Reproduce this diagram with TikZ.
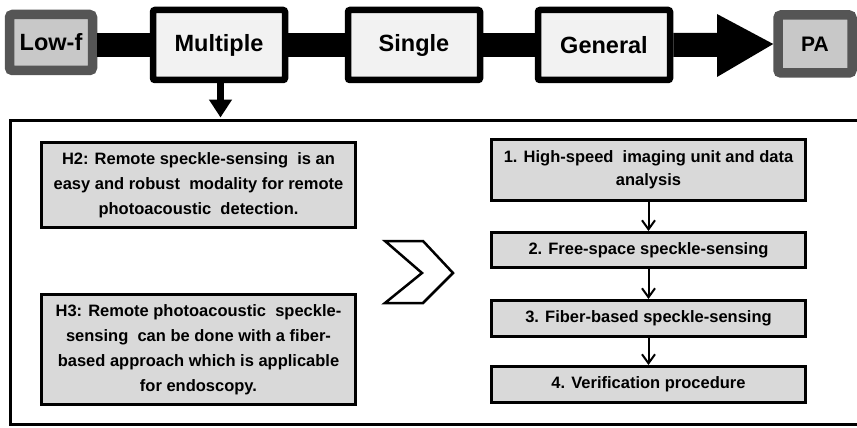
\documentclass[tikz,border=0pt]{standalone}
\usepackage{fontspec}
\setmainfont{Liberation Sans}
\usetikzlibrary{arrows.meta,calc}
\definecolor{boxgray}{HTML}{D9D9D9}
\definecolor{pale}{HTML}{F2F2F2}
\definecolor{endfill}{HTML}{C8C8C8}
\definecolor{enddraw}{HTML}{555555}
\begin{document}
\begin{tikzpicture}[x=1pt,y=-1pt,
  endbox/.style={draw=enddraw,fill=endfill,line width=9.5pt,rounded corners=3pt,
    font=\fontsize{23.5}{28}\selectfont\bfseries,inner sep=0pt},
  stagebox/.style={draw=black,fill=pale,line width=6.5pt,rounded corners=2pt,
    minimum width=132pt,minimum height=70pt,inner sep=0pt,
    font=\fontsize{23.5}{28}\selectfont\bfseries},
  hypbox/.style={draw=black,fill=boxgray,line width=3pt,minimum width=314pt,
    inner sep=0pt,align=center,font=\fontsize{16.5}{25}\selectfont\bfseries},
  workbox/.style={draw=black,fill=boxgray,line width=3pt,minimum width=314pt,
    inner sep=0pt,align=center,font=\fontsize{16.5}{23}\selectfont\bfseries},
  bar/.style={line width=24pt},
  smallarrow/.style={line width=2pt,-{Straight Barb[length=9pt 0 0,width=13pt 0 0,line width=2pt]}}
]
\useasboundingbox (0,0) rectangle (857,428);
\clip (0,0) rectangle (857,428);
\fill[white] (0,0) rectangle (857,428);

% top row
\node[endbox,minimum width=83pt,minimum height=56pt] (lowf) at (51,42.5) {Low-f};
\node[stagebox] (multiple) at (219,45) {Multiple};
\node[stagebox] (single) at (414,45) {Single};
\node[stagebox] (general) at (604,45) {General};
\node[endbox,minimum width=74pt,minimum height=58pt,font=\fontsize{21}{25}\selectfont\bfseries] (pa) at (815,44) {PA};

\draw[bar] (lowf.east |- 0,45) -- (multiple.west);
\draw[bar] (multiple.east) -- (single.west);
\draw[bar] (single.east) -- (general.west);
\fill ($(general.east)+(0,-12)$) -- (717,33) -- (717,14) -- (pa.west) -- (717,77) -- (717,57) -- ($(general.east)+(0,12)$) -- cycle;

% container
\node[draw=black,line width=3pt,minimum width=870pt,minimum height=304pt,inner sep=0pt] (big) at (445,272) {};
\draw[line width=7pt,-{Triangle[length=18pt 0 0,width=22pt 0 0]}] ($(multiple.south)+(1.5,0)$) -- ($(multiple.south |- big.north)+(1.5,-1)$);

% hypotheses
\node[hypbox,minimum height=85pt] (h2) at (198.5,185) {H2: Remote speckle-sensing\ \ is an\\easy and robust\ \ modality for remote\\photoacoustic\ \ detection.};
\node[hypbox,minimum height=110pt] (h3) at (198.5,349.5) {H3: Remote photoacoustic\ \ speckle-\\sensing\ \ can be done with a fiber-\\based approach which is applicable\\for endoscopy.};

% chevron
\draw[line width=2.5pt,line join=miter,fill=white] (385,241) -- (423,241) -- (453,273) -- (423,303) -- (385,303) -- (422,273) -- cycle;

% work packages
\node[workbox,minimum height=61pt] (w1) at (648.5,170) {1. High-speed\ \ imaging unit and data\\analysis};
\node[workbox,minimum height=35pt] (w2) at (648.5,250) {2. Free-space speckle-sensing};
\node[workbox,minimum height=36pt] (w3) at (648.5,318.5) {3. Fiber-based speckle-sensing};
\node[workbox,minimum height=36pt] (w4) at (648.5,384.5) {4. Verification procedure};

\draw[smallarrow] (w1.south) -- (w2.north);
\draw[smallarrow] (w2.south) -- (w3.north);
\draw[smallarrow] (w3.south) -- (w4.north);
\end{tikzpicture}
\end{document}
